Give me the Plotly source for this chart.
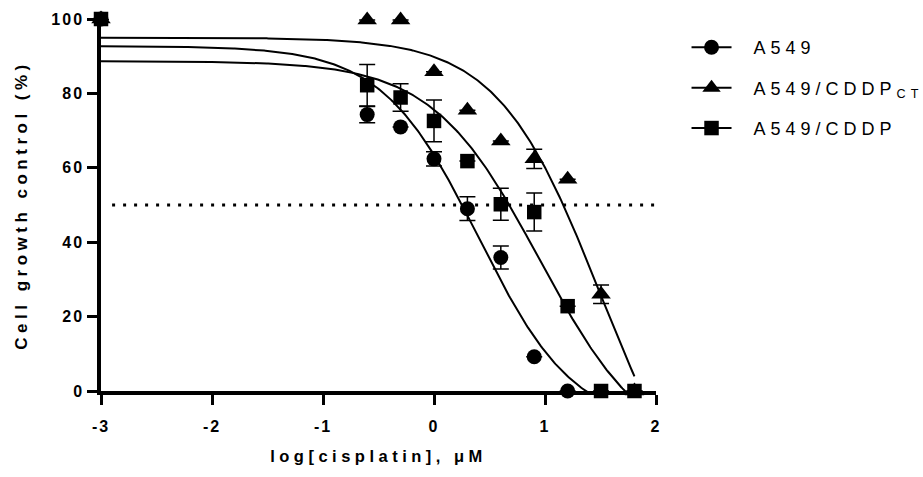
import numpy as np
import plotly.graph_objects as go

# ---------------- data ----------------
log_conc = [-3, -0.602, -0.301, 0, 0.301, 0.602, 0.903, 1.204, 1.505, 1.806]

a549_x = log_conc[:8]
a549_y = [100, 74.3, 71.0, 62.4, 49.0, 35.9, 9.2, 0]
a549_err = [0, 2.2, 0, 1.9, 3.2, 3.1, 0, 0]

ct_x = log_conc
ct_y = [100, 99.7, 99.7, 85.8, 75.5, 67.2, 62.4, 56.9, 26.0, 0]
ct_err = [0, 0, 0, 0, 0, 0, 2.6, 0, 2.5, 0]

cddp_x = log_conc
cddp_y = [100, 82.2, 78.9, 72.6, 61.8, 50.2, 48.1, 22.8, 0, 0]
cddp_err = [0, 5.6, 3.7, 5.6, 0, 4.3, 5.1, 0, 0, 0]

# fitted four-parameter logistic curves (top, bottom, logEC50, hill slope)
fit_a549 = [92.7, -10.0, 0.40, 1.0]
fit_ct = [95.0, -43.0, 1.50, 0.94]
fit_cddp = [88.7, -18.0, 0.95, 0.90]

x_ticks = [-3, -2, -1, 0, 1, 2]
x_tick_labels = ["-3", "-2", "-1", "0", "1", "2"]
y_ticks = [0, 20, 40, 60, 80, 100]
ic50_line = 50

names = ["A549", "A549/CDDP<sub>CT</sub>", "A549/CDDP"]
symbols = ["circle", "triangle-up", "square"]
sizes = [15, 17, 14.5]


def four_pl(x, p):
    top, bottom, logec, hill = p
    return bottom + (top - bottom) / (1 + 10 ** ((x - logec) * hill))


FONT = "Liberation Sans, Arial, sans-serif"
fig = go.Figure()

x_fit = np.linspace(log_conc[0], log_conc[-1], 400)
for p in [fit_a549, fit_ct, fit_cddp]:
    fig.add_trace(go.Scatter(x=x_fit, y=four_pl(x_fit, p), mode="lines",
                             line=dict(color="black", width=2),
                             showlegend=False, hoverinfo="skip"))

# 50% dotted line
fig.add_trace(go.Scatter(x=[-2.9, 2], y=[ic50_line, ic50_line], mode="lines",
                         line=dict(color="black", width=3, dash="3px,8px"),
                         showlegend=False, hoverinfo="skip"))

series = [(a549_x, a549_y, a549_err), (ct_x, ct_y, ct_err), (cddp_x, cddp_y, cddp_err)]
for i, (xs, ys, es) in enumerate(series):
    fig.add_trace(go.Scatter(
        x=xs, y=ys, mode="markers", showlegend=False, cliponaxis=False,
        marker=dict(symbol=symbols[i], size=sizes[i], color="black"),
        error_y=dict(type="data", array=es, visible=True, color="black",
                     thickness=1.5, width=8),
    ))

# legend entries (line + marker)
for i in range(3):
    fig.add_trace(go.Scatter(
        x=[None], y=[None], mode="lines+markers", name=names[i],
        legendgroup=f"g{i}",
        line=dict(color="black", width=2),
        marker=dict(symbol=symbols[i], size=sizes[i], color="black"),
    ))

fig.update_layout(
    width=923, height=477,
    margin=dict(l=100.5, r=266.5, t=19, b=86, autoexpand=False),
    paper_bgcolor="white", plot_bgcolor="white",
    font=dict(family=FONT, color="black"),
    showlegend=True,
    legend=dict(x=1.055, y=0.973, xanchor="left", yanchor="top",
                itemwidth=40,
                font=dict(family=FONT, size=18, color="black"),
                tracegroupgap=14, bgcolor="rgba(0,0,0,0)"),
    xaxis=dict(range=[-3, 2], tickvals=x_ticks, ticktext=x_tick_labels,
               ticks="outside", ticklen=10, ticklabelstandoff=8,
               tickwidth=3, tickcolor="black", showline=True, linewidth=3.5,
               linecolor="black", showgrid=False, zeroline=False,
               tickfont=dict(family=FONT, size=16, color="black", weight="bold"),
               title=dict(text="log[cisplatin], μM", standoff=17,
                          font=dict(family=FONT, size=16.5, color="black", weight="bold"))),
    yaxis=dict(range=[0, 100], tickvals=y_ticks, ticks="outside", ticklen=10,
               tickwidth=3, tickcolor="black", showline=True, linewidth=3.5,
               linecolor="black", showgrid=False, zeroline=False,
               tickfont=dict(family=FONT, size=16, color="black", weight="bold"),
               title=dict(text="Cell growth control (%)", standoff=26,
                          font=dict(family=FONT, size=17, color="black", weight="bold"))),
)

post = """
document.body.style.margin = '0';
var gd = document.getElementById('{plot_id}');
function spacing(){
  gd.querySelectorAll('.xtick text, .ytick text').forEach(function(e){e.style.letterSpacing='2px';});
  gd.querySelectorAll('.xtitle, .ytitle').forEach(function(e){e.style.letterSpacing='4.5px';});
  gd.querySelectorAll('.legendtext').forEach(function(e){
    e.style.letterSpacing='5px';
    e.style.transform='translateX(17px)';
  });
  gd.querySelectorAll('.legend .scrollbox').forEach(function(e){e.removeAttribute('clip-path');});
}
spacing();
gd.on('plotly_afterplot', spacing);
"""

fig.write_html("out.html", post_script=post, config={"displayModeBar": False})
